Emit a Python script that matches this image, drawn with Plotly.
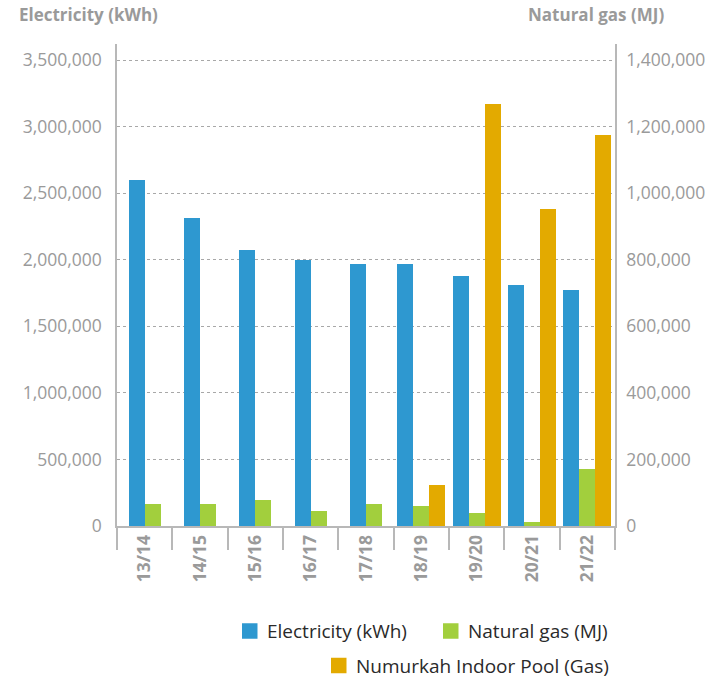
import plotly.graph_objects as go

categories = ["13/14", "14/15", "15/16", "16/17", "17/18", "18/19", "19/20", "20/21", "21/22"]
electricity = [2595000, 2310000, 2070000, 1997000, 1965000, 1965000, 1875000, 1807000, 1770000]
natural_gas = [66000, 66000, 78000, 45000, 66000, 60000, 39000, 12000, 171000]
pool_gas = [None, None, None, None, None, 123000, 1269000, 951000, 1176000]

series_names = ["Electricity (kWh)", "Natural gas (MJ)", "Numurkah Indoor Pool (Gas)"]
colors = ["#2E98D0", "#A2CF3D", "#E3AA00"]
left_ticks = [0, 500000, 1000000, 1500000, 2000000, 2500000, 3000000, 3500000]
right_ticks = [0, 200000, 400000, 600000, 800000, 1000000, 1200000, 1400000]

W, H = 705, 679
L, R, T, B = 117, 615, 44, 526
bar_w = 0.29

all_series = [electricity, natural_gas, pool_gas]
axes = ["y", "y2", "y2"]

# compute centered offsets per category for present bars
offsets = [[None] * len(categories) for _ in all_series]
for i in range(len(categories)):
    present = [s for s in range(3) if all_series[s][i] is not None]
    n = len(present)
    for k, s in enumerate(present):
        offsets[s][i] = -n * bar_w / 2 + k * bar_w

fig = go.Figure()
for s in range(3):
    fig.add_trace(go.Bar(
        x=categories, y=all_series[s], name=series_names[s],
        marker=dict(color=colors[s], line=dict(width=0)),
        width=bar_w, offset=[o if o is not None else 0 for o in offsets[s]],
        yaxis=axes[s], showlegend=False,
        hovertemplate="%{x}: %{y:,}<extra>" + series_names[s] + "</extra>",
    ))

gray = "#9a9a9a"
axis_col = "#b8b8b8"
fig.update_layout(
    width=W, height=H,
    margin=dict(l=L, r=W - R, t=T, b=H - B, autoexpand=False),
    paper_bgcolor="white", plot_bgcolor="white",
    barmode="overlay", bargap=0,
    font=dict(family="Open Sans", color=gray),
    xaxis=dict(
        type="category", tickangle=-90, tickson="boundaries",
        ticks="outside", ticklen=22, tickwidth=1.5, tickcolor=axis_col,
        showline=True, linecolor=axis_col, linewidth=2,
        showgrid=False, zeroline=False, automargin=False,
        tickfont=dict(family="Open Sans", size=17.5, color=gray, weight="bold"),
    ),
    yaxis=dict(
        range=[0, 3500000 * (B - T) / 466], tickvals=left_ticks,
        tickformat=",d", showline=True, linecolor=axis_col, linewidth=1.5,
        showgrid=True, gridcolor="#a8a8a8", griddash="dot", gridwidth=1,
        zeroline=False, ticks="outside", ticklen=10, tickcolor="rgba(0,0,0,0)",
        automargin=False,
        tickfont=dict(family="Open Sans", size=17.5, color=gray),
    ),
    yaxis2=dict(
        overlaying="y", side="right",
        range=[0, 1400000 * (B - T) / 466], tickvals=right_ticks,
        tickformat=",d", showline=True, linecolor=axis_col, linewidth=1.5,
        showgrid=False, zeroline=False, ticks="outside", ticklen=6,
        tickcolor="rgba(0,0,0,0)", automargin=False,
        tickfont=dict(family="Open Sans", size=17.5, color=gray),
    ),
)

# axis titles
fig.add_annotation(text="<b>Electricity (kWh)</b>", xref="paper", yref="paper",
                   x=(17 - L) / (R - L), y=(B - 15) / (B - T), xanchor="left", yanchor="middle",
                   showarrow=False, font=dict(family="Open Sans", size=17, color=gray))
fig.add_annotation(text="<b>Natural gas (MJ)</b>", xref="paper", yref="paper",
                   x=(666 - L) / (R - L), y=(B - 15) / (B - T), xanchor="right", yanchor="middle",
                   showarrow=False, font=dict(family="Open Sans", size=17, color=gray))

# manual legend
legend_items = [(242, 631), (443, 631), (331, 665.5)]
for s, (px, py) in enumerate(legend_items):
    fig.add_shape(type="rect", xref="paper", yref="paper",
                  x0=(px - L) / (R - L), x1=(px + 15.5 - L) / (R - L),
                  y0=(B - (py - 7.75)) / (B - T), y1=(B - (py + 7.75)) / (B - T),
                  fillcolor=colors[s], line=dict(width=0))
    fig.add_annotation(text=series_names[s], xref="paper", yref="paper",
                       x=(px + 23 - L) / (R - L), y=(B - py) / (B - T),
                       xanchor="left", yanchor="middle", showarrow=False,
                       font=dict(family="Open Sans", size=19, color="#2a2a2a"))

fig.write_html("out.html", config={"displayModeBar": False},
               post_script="document.body.style.margin='0';document.body.style.overflow='hidden';")
